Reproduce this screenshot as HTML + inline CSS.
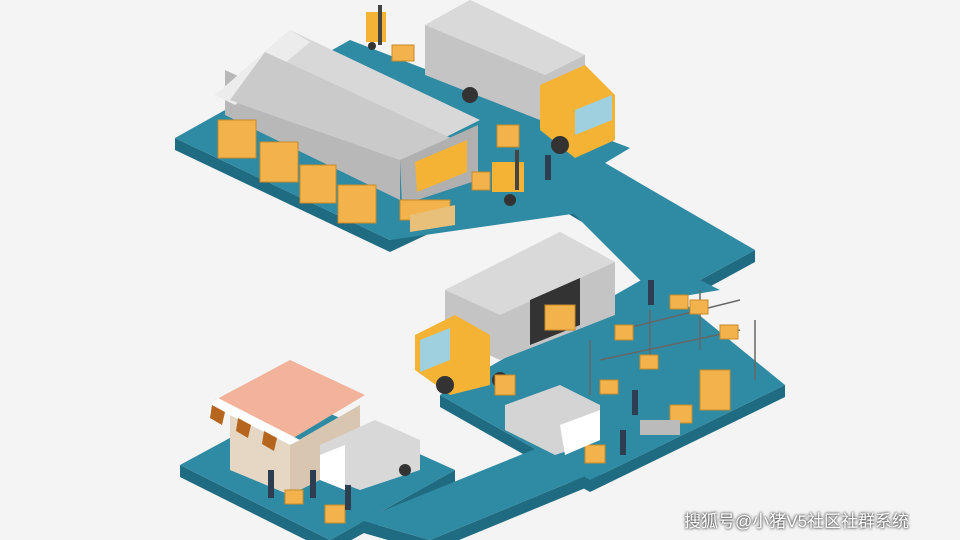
<!DOCTYPE html>
<html><head><meta charset="utf-8"><style>
html,body{margin:0;padding:0;background:#f4f4f4;}
.w{position:relative;width:960px;height:540px;overflow:hidden;background:#f4f4f4;}
.t{position:absolute;left:684px;top:507px;font:17px "Liberation Sans","Noto Sans CJK SC",sans-serif;color:#fff;text-shadow:0 0 3px #555,0 0 2px #333;}
</style></head><body><div class="w">
<svg width="960" height="540" viewBox="0 0 960 540">
<g fill="#1f6c82">
<polygon points="175,138 175,150 390,252 560,172 560,160 390,240"/>
<polygon points="540,197 700,292 755,262 755,250 700,280 540,185"/>
<polygon points="440,395 440,407 590,492 785,397 785,385 590,480"/>
<polygon points="180,465 180,477 330,552 455,482 455,470 330,540"/>
<polygon points="360,520 360,532 430,552 600,482 600,470 430,540"/>
</g>
<g fill="#2f8aa4">
<polygon points="175,138 350,40 630,148 560,190 600,210 390,240"/>
<polygon points="545,185 600,160 755,250 700,280 720,290 660,300"/>
<polygon points="440,395 650,275 785,385 590,480"/>
<polygon points="180,465 300,400 455,470 330,540"/>
<polygon points="360,520 545,445 600,470 430,540"/>
</g>
<!-- warehouse -->
<polygon points="225,115 400,200 400,150 225,70" fill="#b8b8b8"/>
<polygon points="215,95 290,30 480,120 400,160" fill="#d8d8d8"/>
<polygon points="215,95 290,30 310,42 235,105" fill="#ececec"/>
<polygon points="265,52 455,140 400,160 230,100" fill="#cacaca"/>
<polygon points="400,160 478,125 478,180 402,205" fill="#b0b0b0"/>
<polygon points="415,162 467,140 467,172 417,192" fill="#f5b335"/>
<g fill="#f2b34c" stroke="#c98a28" stroke-width="1">
<rect x="218" y="120" width="38" height="38"/><rect x="260" y="142" width="38" height="40"/>
<rect x="300" y="165" width="36" height="38"/><rect x="338" y="185" width="38" height="38"/>
<rect x="400" y="200" width="50" height="20"/><rect x="392" y="45" width="22" height="16"/>
<rect x="497" y="125" width="22" height="22"/><rect x="472" y="172" width="18" height="18"/>
</g>
<polygon points="410,215 455,205 455,225 410,232" fill="#e8c07a"/>
<!-- top forklift -->
<rect x="366" y="12" width="20" height="30" fill="#f5b335"/><rect x="378" y="5" width="4" height="40" fill="#444"/>
<circle cx="372" cy="46" r="4" fill="#333"/>
<!-- top truck -->
<polygon points="425,25 470,0 585,55 585,105 540,120 425,75" fill="#c4c4c4"/>
<polygon points="425,25 470,0 585,55 545,75" fill="#d9d9d9"/>
<polygon points="540,85 585,65 615,95 615,140 575,158 540,130" fill="#f5b335"/>
<polygon points="575,110 612,95 612,120 575,135" fill="#9fd0e0"/>
<circle cx="470" cy="95" r="8" fill="#333"/><circle cx="560" cy="145" r="9" fill="#333"/>
<rect x="492" y="162" width="32" height="30" fill="#f5b335"/><rect x="515" y="150" width="4" height="40" fill="#444"/><circle cx="510" cy="200" r="6" fill="#333"/>
<!-- middle truck -->
<polygon points="445,290 560,232 615,262 615,315 500,360 445,335" fill="#c4c4c4"/>
<polygon points="445,290 560,232 615,262 500,315" fill="#d9d9d9"/>
<polygon points="530,300 580,278 580,325 530,345" fill="#333"/>
<polygon points="415,335 455,315 490,335 490,385 450,395 415,370" fill="#f5b335"/>
<polygon points="420,340 450,328 450,360 420,372" fill="#9fd0e0"/>
<circle cx="445" cy="385" r="9" fill="#333"/><circle cx="500" cy="380" r="8" fill="#333"/>
<g stroke="#666" stroke-width="1.5" fill="none">
<path d="M590,340 L590,395 M650,310 L650,370 M700,290 L700,350 M755,320 L755,380 M620,330 L740,300 M600,360 L740,330"/>
</g>
<g fill="#f2b34c" stroke="#c98a28">
<rect x="545" y="305" width="30" height="25"/><rect x="615" y="325" width="18" height="15"/><rect x="670" y="295" width="18" height="14"/>
<rect x="700" y="370" width="30" height="40"/><rect x="720" y="325" width="18" height="14"/><rect x="690" y="300" width="18" height="14"/>
<rect x="640" y="355" width="18" height="14"/><rect x="670" y="405" width="22" height="18"/><rect x="585" y="445" width="20" height="18"/>
<rect x="495" y="375" width="20" height="20"/><rect x="600" y="380" width="18" height="14"/>
</g>
<polygon points="505,405 560,385 600,405 600,440 555,455 505,430" fill="#d4d4d4"/>
<polygon points="560,425 600,410 600,440 565,455" fill="#fff"/>
<rect x="640" y="420" width="40" height="15" fill="#bbb"/>
<!-- shop -->
<polygon points="215,400 290,360 365,395 290,440" fill="#f2b39a"/>
<polygon points="230,415 290,445 290,495 230,470" fill="#e6d7c4"/>
<polygon points="290,445 360,405 360,460 290,495" fill="#d8c6b0"/>
<polygon points="210,405 290,445 300,440 218,398" fill="#fff"/>
<g fill="#b5651d"><polygon points="212,405 225,412 222,425 210,418"/><polygon points="238,418 251,425 248,438 236,431"/><polygon points="264,431 277,438 274,451 262,444"/></g>
<polygon points="320,445 375,420 420,440 420,470 360,490 320,475" fill="#d8d8d8"/>
<polygon points="320,455 345,445 345,490 320,480" fill="#fff"/>
<circle cx="405" cy="470" r="6" fill="#333"/>
<g fill="#f2b34c" stroke="#c98a28"><rect x="325" y="505" width="20" height="18"/><rect x="285" y="490" width="18" height="14"/></g>
<g fill="#2c3e50"><rect x="268" y="470" width="6" height="28"/><rect x="310" y="470" width="6" height="28"/><rect x="345" y="485" width="6" height="25"/><rect x="632" y="390" width="6" height="25"/><rect x="620" y="430" width="6" height="25"/><rect x="545" y="155" width="6" height="25"/><rect x="648" y="280" width="6" height="25"/></g>
</svg>
<div class="t">搜狐号@小猪V5社区社群系统</div>
</div></body></html>
